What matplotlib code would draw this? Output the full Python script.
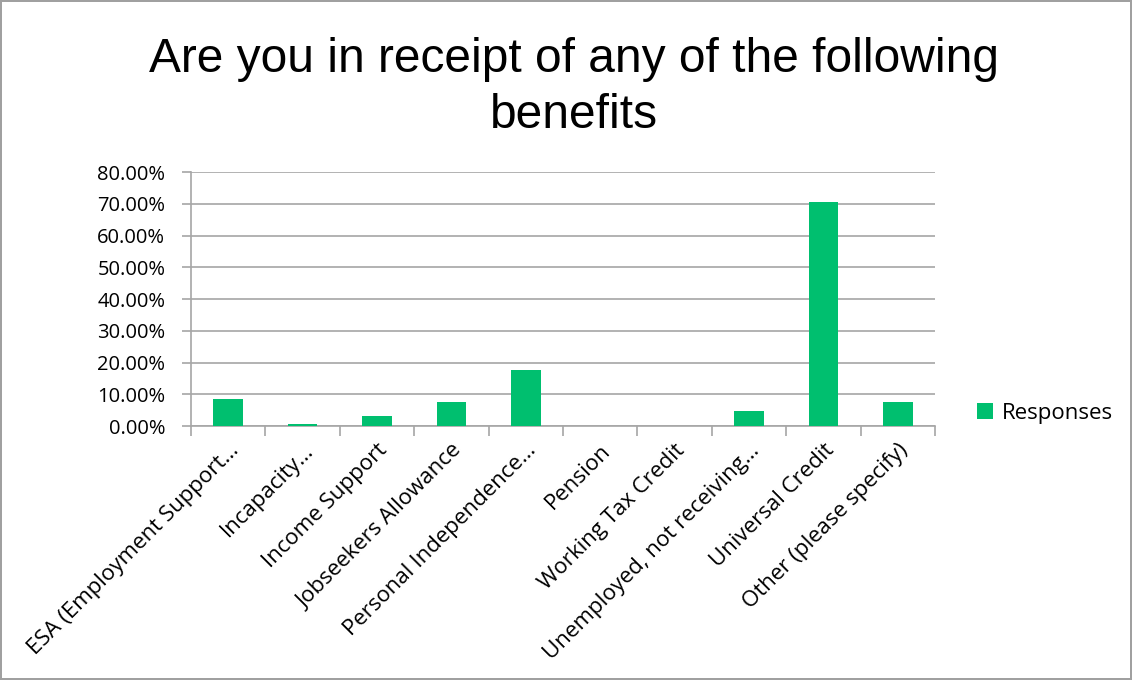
import numpy as np
import matplotlib.pyplot as plt
from matplotlib.ticker import FuncFormatter

categories = ["ESA (Employment Support…", "Incapacity…", "Income Support",
              "Jobseekers Allowance", "Personal Independence…", "Pension",
              "Working Tax Credit", "Unemployed, not receiving…",
              "Universal Credit", "Other (please specify)"]
responses = [8.4, 0.6, 3.0, 7.7, 17.7, 0.0, 0.0, 4.6, 70.7, 7.7]

GREEN = "#00bf6f"
GRID = "#a6a6a6"

fig = plt.figure(figsize=(11.32, 6.8), dpi=100)
fig.patch.set_edgecolor("#a0a0a0")
fig.patch.set_linewidth(1.5)
ax = fig.add_axes([0.1687, 0.3735, 0.6573, 0.3735])

x = np.arange(len(categories))
ax.bar(x, responses, width=0.4, color=GREEN, label="Responses", zorder=3)
ax.set_xlim(-0.5, len(categories) - 0.5)
ax.set_ylim(0, 80)
ax.set_yticks(np.arange(0, 81, 10))
ax.yaxis.set_major_formatter(FuncFormatter(lambda v, p: f"{v:.2f}%"))
ax.grid(axis="y", color=GRID, lw=1.2, zorder=0)

ax.set_xticks(np.arange(len(categories) + 1) - 0.5, minor=False)
ax.set_xticklabels([])
ax.set_xticks(x, minor=True)
ax.set_xticklabels(categories, minor=True, rotation=45, ha="right",
                   rotation_mode="anchor", fontsize=16, family="Open Sans")
ax.tick_params(axis="x", which="minor", length=0, pad=10)
ax.tick_params(axis="x", which="major", length=7, color=GRID, width=1.2)
ax.tick_params(axis="y", length=6.5, color=GRID, width=1.2, labelsize=14.5, pad=12)
for lab in ax.get_yticklabels():
    lab.set_family("Open Sans")

for s in ("top", "right"):
    ax.spines[s].set_visible(False)
for s in ("left", "bottom"):
    ax.spines[s].set_color(GRID)
    ax.spines[s].set_linewidth(1.2)

fig.text(0.507, 0.871, "Are you in receipt of any of the following\nbenefits",
         ha="center", va="center", fontsize=34.5, family="Liberation Sans",
         linespacing=1.32)

leg = ax.legend(loc="center left", bbox_to_anchor=(1.030, 0.05), frameon=False,
                prop={"family": "Open Sans", "size": 16}, handlelength=0.7,
                handleheight=0.7, handletextpad=0.4)

fig.savefig("out.png", dpi=100, edgecolor=fig.get_edgecolor())
